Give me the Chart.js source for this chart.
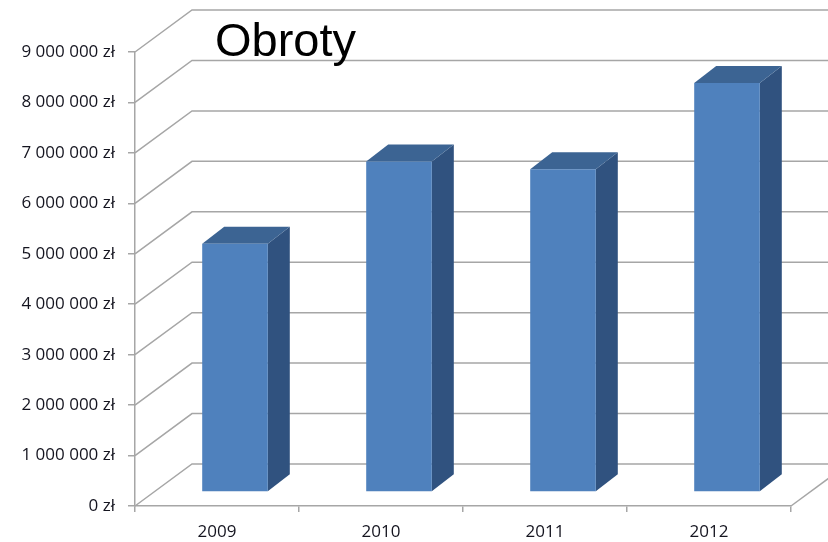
<!DOCTYPE html>
<html>
<head>
<meta charset="utf-8">
<title>Obroty</title>
<script src="https://cdn.jsdelivr.net/npm/chart.js@4"></script>
<style>
    html, body { margin: 0; padding: 0; background: #fff; }
    canvas { display: block; }
</style>
</head>
<body>
<canvas id="turnoverChart" width="828" height="542"></canvas>
<script>
// ---- Data ----
const years = ['2009', '2010', '2011', '2012'];
const turnover = [4920000, 6550000, 6400000, 8110000];
const yMax = 9000000;
const yStep = 1000000;
const chartTitle = 'Obroty';

// ---- 3D look ----
const WALL_DX = 57, WALL_DY = 42;     // depth of back wall
const BAR_OFF_X = 18, BAR_OFF_Y = 14; // bar front face sits inside the box
const BAR_DX = 22, BAR_DY = 17;       // bar depth
const GRID_COLOR = '#a6a6a6';

function formatZl(value) {
    return String(value).replace(/\B(?=(\d{3})+(?!\d))/g, ' ') + ' zł';
}

// back wall, side wall, floor edge and title
const wallPlugin = {
    id: 'wall3d',
    beforeDatasetsDraw(chart) {
        const ctx = chart.ctx;
        const area = chart.chartArea;
        const y = chart.scales.y;

        ctx.save();
        ctx.strokeStyle = GRID_COLOR;
        ctx.lineWidth = 1.5;
        y.ticks.forEach(t => {
            const py = y.getPixelForValue(t.value);
            ctx.beginPath();
            ctx.moveTo(area.left, py);
            ctx.lineTo(area.left + WALL_DX, py - WALL_DY);
            ctx.lineTo(chart.width + 10, py - WALL_DY);
            ctx.stroke();
        });
        // right edge of the floor
        ctx.beginPath();
        ctx.moveTo(area.right, area.bottom);
        ctx.lineTo(area.right + WALL_DX, area.bottom - WALL_DY);
        ctx.stroke();

        // title
        ctx.fillStyle = '#000';
        ctx.font = '47px "Liberation Sans", Arial, sans-serif';
        ctx.textBaseline = 'alphabetic';
        ctx.fillText(chartTitle, 215, 56);

        // bar sides and tops, then leave the context shifted for the front faces
        const meta = chart.getDatasetMeta(0);
        ctx.translate(BAR_OFF_X, -BAR_OFF_Y);
        meta.data.forEach(bar => {
            const l = bar.x - bar.width / 2;
            const r = bar.x + bar.width / 2;
            ctx.fillStyle = '#30527f';
            ctx.beginPath();
            ctx.moveTo(r, bar.y);
            ctx.lineTo(r + BAR_DX, bar.y - BAR_DY);
            ctx.lineTo(r + BAR_DX, bar.base - BAR_DY);
            ctx.lineTo(r, bar.base);
            ctx.closePath();
            ctx.fill();

            ctx.fillStyle = '#3c6493';
            ctx.beginPath();
            ctx.moveTo(l, bar.y);
            ctx.lineTo(l + BAR_DX, bar.y - BAR_DY);
            ctx.lineTo(r + BAR_DX, bar.y - BAR_DY);
            ctx.lineTo(r, bar.y);
            ctx.closePath();
            ctx.fill();
        });
    },
    afterDatasetsDraw(chart) {
        chart.ctx.restore();
    }
};

// ---- Chart ----
function initTurnoverChart() {
    const ctx = document.getElementById('turnoverChart');

    new Chart(ctx, {
        type: 'bar',
        data: {
            labels: years,
            datasets: [{
                label: chartTitle,
                data: turnover,
                backgroundColor: '#4f81bd',
                borderWidth: 0,
                barPercentage: 0.4,
                categoryPercentage: 1.0,
                clip: false
            }]
        },
        options: {
            responsive: false,
            animation: false,
            layout: {
                padding: { top: 52, right: 37, left: 0, bottom: 0 }
            },
            plugins: {
                legend: { display: false },
                tooltip: { enabled: false },
                title: { display: false }
            },
            scales: {
                y: {
                    min: 0,
                    max: yMax,
                    afterFit: s => { s.width = 135; },
                    ticks: {
                        stepSize: yStep,
                        padding: 13,
                        color: '#14141f',
                        font: { family: '"Open Sans", sans-serif', size: 17 },
                        callback: v => formatZl(v)
                    },
                    grid: {
                        drawOnChartArea: false,
                        drawTicks: true,
                        tickLength: 7,
                        color: GRID_COLOR,
                        lineWidth: 1.5
                    },
                    border: { color: GRID_COLOR, width: 1.5 }
                },
                x: {
                    afterFit: s => { s.height = 36; },
                    ticks: {
                        padding: 10,
                        color: '#14141f',
                        font: { family: '"Open Sans", sans-serif', size: 17 }
                    },
                    grid: {
                        offset: true,
                        drawOnChartArea: false,
                        drawTicks: true,
                        tickLength: 6,
                        color: GRID_COLOR,
                        lineWidth: 1.5
                    },
                    border: { color: GRID_COLOR, width: 1.5 }
                }
            }
        },
        plugins: [wallPlugin]
    });
}

document.addEventListener('DOMContentLoaded', initTurnoverChart);
</script>
</body>
</html>
